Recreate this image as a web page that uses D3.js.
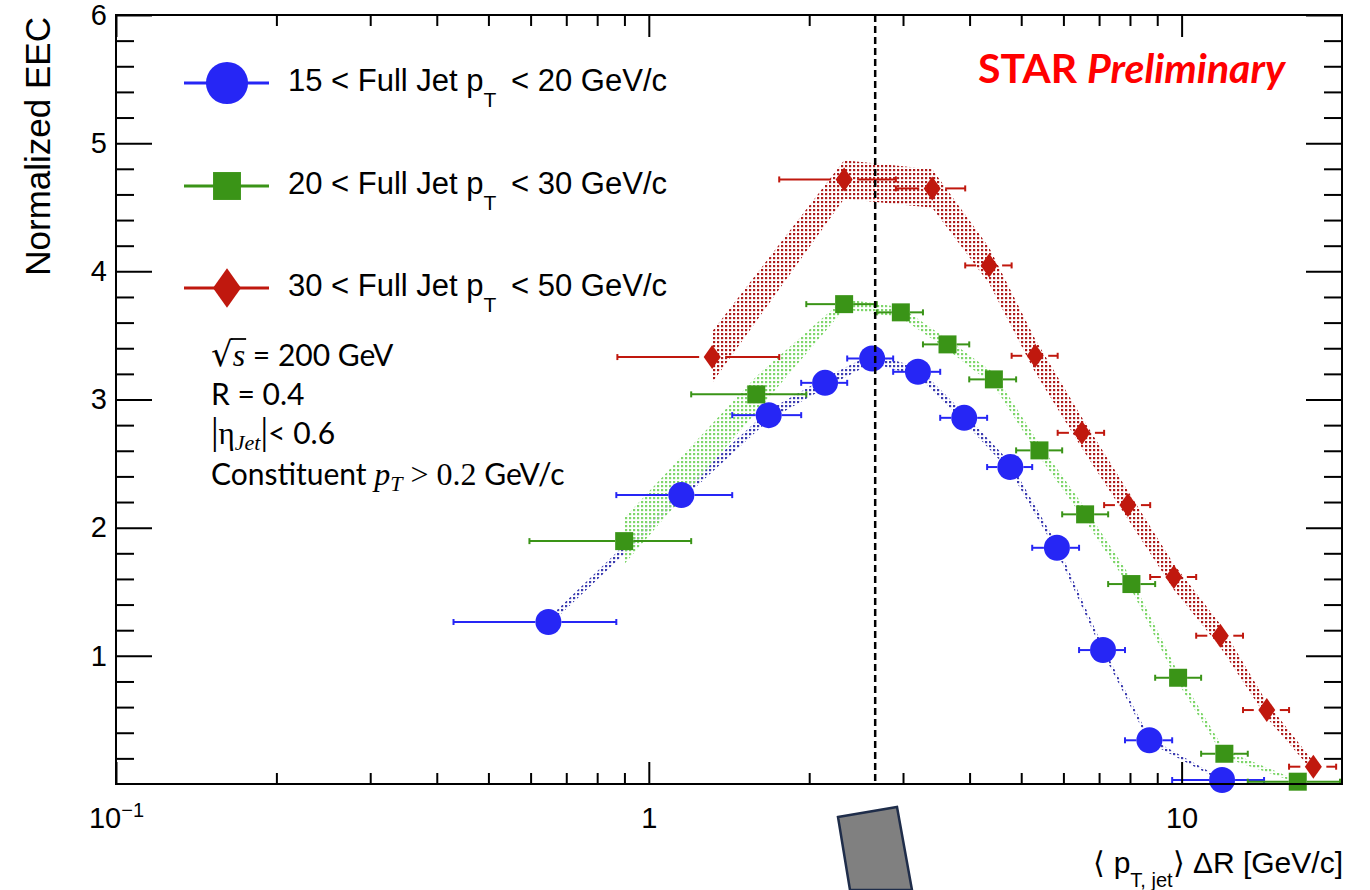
<!DOCTYPE html>
<html>
<head>
<meta charset="utf-8">
<title>Normalized EEC</title>
<script src="https://d3js.org/d3.v7.min.js"></script>
<style>
    body { margin: 0; background: #fff; }
    svg { font-family: "Liberation Sans", Arial, sans-serif; }
    .note { font-family: Lato, "Open Sans", sans-serif; font-size: 30px; fill: #000; }
    .math { font-family: "Liberation Serif", "DejaVu Serif", serif; font-style: italic; }
    .mathup { font-family: "Liberation Serif", "DejaVu Serif", serif; }
</style>
</head>
<body>
<div id="chart"></div>
<script>
// ---- data ----
var blueX     = [0.648, 1.151, 1.679, 2.142, 2.625, 3.20, 3.908, 4.77, 5.834, 7.12, 8.70, 11.91];
var blueY     = [1.264, 2.254, 2.878, 3.13, 3.32, 3.216, 2.857, 2.473, 1.843, 1.045, 0.341, 0.031];
var blueXLow  = [0.430, 0.869, 1.434, 1.932, 2.357, 2.875, 3.523, 4.315, 5.243, 6.42, 7.83, 9.60];
var blueXHigh = [0.869, 1.434, 1.932, 2.357, 2.875, 3.523, 4.315, 5.243, 6.42, 7.83, 9.60, 14.28];
var blueSys   = [0.03, 0.04, 0.04, 0.04, 0.035, 0.035, 0.035, 0.035, 0.03, 0.025, 0.02, 0.01];

var greenX     = [0.899, 1.591, 2.326, 2.972, 3.636, 4.443, 5.41, 6.59, 8.05, 9.85, 12.03, 16.52];
var greenY     = [1.895, 3.04, 3.744, 3.68, 3.43, 3.157, 2.603, 2.104, 1.56, 0.829, 0.236, 0.018];
var greenXLow  = [0.597, 1.201, 1.975, 2.678, 3.270, 3.994, 4.891, 5.968, 7.28, 8.92, 10.88, 13.31];
var greenXHigh = [1.201, 1.975, 2.678, 3.270, 3.994, 4.891, 5.968, 7.28, 8.92, 10.88, 13.31, 19.83];
var greenSys   = [0.18, 0.14, 0.04, 0.04, 0.04, 0.05, 0.05, 0.05, 0.045, 0.04, 0.03, 0.01];

var redX     = [1.315, 2.326, 3.403, 4.352, 5.311, 6.50, 7.93, 9.67, 11.82, 14.45, 17.67];
var redY     = [3.331, 4.717, 4.647, 4.046, 3.341, 2.74, 2.176, 1.615, 1.157, 0.577, 0.135];
var redXLow  = [0.873, 1.757, 2.909, 3.925, 4.797, 5.853, 7.154, 8.73, 10.65, 13.04, 15.91];
var redXHigh = [1.757, 2.909, 3.925, 4.797, 5.853, 7.154, 8.73, 10.65, 13.04, 15.91, 19.50];
var redSys   = [0.2, 0.15, 0.15, 0.14, 0.13, 0.12, 0.11, 0.10, 0.09, 0.06, 0.04];

var ptLow  = [15, 20, 30];
var ptHigh = [20, 30, 50];

var xMajor = [0.1, 1, 10];
var xMinor = [0.2, 0.3, 0.4, 0.5, 0.6, 0.7, 0.8, 0.9, 2, 3, 4, 5, 6, 7, 8, 9];
var yMajor = [1, 2, 3, 4, 5, 6];
var yMinor = d3.range(1, 30).map(function(i) { return i / 5; }).filter(function(v) { return v % 1 !== 0; });

var peakLine = 2.66;

// ---- layout ----
var width = 1370, height = 890;
var plotL = 116, plotR = 1342, plotT = 15, plotB = 784;

var x = d3.scaleLog().domain([0.1, 20]).range([plotL, plotR]);
var y = d3.scaleLinear().domain([0, 6]).range([plotB, plotT]);

var svg = d3.select("#chart").append("svg")
    .attr("width", width)
    .attr("height", height);

var defs = svg.append("defs");
function dotPattern(id, dot) {
    var p = defs.append("pattern").attr("id", id)
        .attr("width", 4).attr("height", 4)
        .attr("patternUnits", "userSpaceOnUse");
    p.append("rect").attr("x", 1).attr("y", 1).attr("width", 2.2).attr("height", 2.2).attr("fill", dot);
}
dotPattern("dotsRed", "#ad1c1c");
dotPattern("dotsGreen", "#7ed66a");
dotPattern("dotsBlue", "#3d3db0");

var series = [
    {xs: blueX, ys: blueY, lo: blueXLow, hi: blueXHigh, sys: blueSys, color: "#2626f5", band: "url(#dotsBlue)", shape: "circle", gap: 13},
    {xs: greenX, ys: greenY, lo: greenXLow, hi: greenXHigh, sys: greenSys, color: "#3a9417", band: "url(#dotsGreen)", shape: "square", gap: 9},
    {xs: redX, ys: redY, lo: redXLow, hi: redXHigh, sys: redSys, color: "#c0180e", band: "url(#dotsRed)", shape: "diamond", gap: 13}
];

function markerPath(shape, s) {
    // s = scale factor (1 for data points)
    if (shape === "circle") {
        var r = 13 * s;
        return "M" + (-r) + ",0A" + r + "," + r + " 0 1,0 " + r + ",0A" + r + "," + r + " 0 1,0 " + (-r) + ",0Z";
    }
    if (shape === "square") {
        var h = 9 * s;
        return "M" + (-h) + "," + (-h) + "H" + h + "V" + h + "H" + (-h) + "Z";
    }
    var w = 8.5 * s, hh = 12 * s;
    return "M0," + (-hh) + "L" + w + ",0L0," + hh + "L" + (-w) + ",0Z";
}

/* systematic bands */
var area = d3.area()
    .x(function(d) { return x(d.x); })
    .y0(function(d) { return y(d.y - d.s); })
    .y1(function(d) { return y(d.y + d.s); });

series.forEach(function(s) {
    var pts = s.xs.map(function(v, i) { return {x: v, y: s.ys[i], s: s.sys[i]}; });
    svg.append("path").attr("d", area(pts)).attr("fill", s.band);
});

/* error bars + markers */
series.forEach(function(s) {
    var g = svg.append("g");
    s.xs.forEach(function(v, i) {
        var cx = x(v), cy = y(s.ys[i]), x0 = x(s.lo[i]), x1 = x(s.hi[i]);
        var segs = [[x0, Math.min(cx - s.gap, x1)], [Math.max(cx + s.gap, x0), x1]];
        segs.forEach(function(sg) {
            if (sg[1] - sg[0] > 0) {
                g.append("line").attr("x1", sg[0]).attr("x2", sg[1]).attr("y1", cy).attr("y2", cy)
                    .attr("stroke", s.color).attr("stroke-width", 2);
            }
        });
        [x0, x1].forEach(function(xe) {
            g.append("line").attr("x1", xe).attr("x2", xe).attr("y1", cy - 3).attr("y2", cy + 3)
                .attr("stroke", s.color).attr("stroke-width", 2);
        });
    });
    g.selectAll("path.marker")
        .data(s.xs).enter()
        .append("path")
        .attr("class", "marker")
        .attr("d", markerPath(s.shape, 1))
        .attr("transform", function(d, i) { return "translate(" + x(d) + "," + y(s.ys[i]) + ")"; })
        .attr("fill", s.color);
});

/* dashed line */
svg.append("line")
    .attr("x1", x(peakLine)).attr("x2", x(peakLine))
    .attr("y1", plotT).attr("y2", plotB)
    .attr("stroke", "#000").attr("stroke-width", 2.5)
    .attr("stroke-dasharray", "7,4");

/* axes */
function clean(g) {
    g.select(".domain").remove();
    g.selectAll(".tick line").attr("stroke", "#000").attr("stroke-width", 2);
    g.attr("font-family", "Liberation Sans, Arial, sans-serif").attr("font-size", 29);
    g.selectAll("text").attr("fill", "#000");
}

var gxb = svg.append("g").attr("transform", "translate(0," + plotB + ")")
    .call(d3.axisBottom(x).tickValues(xMajor).tickSizeInner(-22).tickSizeOuter(0).tickPadding(23)
        .tickFormat(function(d) { return d === 0.1 ? "10" : d3.format("d")(d); }))
    .call(clean);
gxb.selectAll(".tick text").filter(function(d) { return d === 0.1; })
    .append("tspan").attr("font-size", 20).attr("dy", -11).text("\u22121");
svg.append("g").attr("transform", "translate(0," + plotB + ")")
    .call(d3.axisBottom(x).tickValues(xMinor).tickSizeInner(-11).tickSizeOuter(0).tickFormat(""))
    .call(clean);
svg.append("g").attr("transform", "translate(0," + plotT + ")")
    .call(d3.axisTop(x).tickValues(xMajor).tickSizeInner(-22).tickSizeOuter(0).tickFormat(""))
    .call(clean);
svg.append("g").attr("transform", "translate(0," + plotT + ")")
    .call(d3.axisTop(x).tickValues(xMinor).tickSizeInner(-11).tickSizeOuter(0).tickFormat(""))
    .call(clean);

svg.append("g").attr("transform", "translate(" + plotL + ",0)")
    .call(d3.axisLeft(y).tickValues(yMajor).tickSizeInner(-36).tickSizeOuter(0).tickPadding(9)
        .tickFormat(d3.format("d")))
    .call(clean);
svg.append("g").attr("transform", "translate(" + plotL + ",0)")
    .call(d3.axisLeft(y).tickValues(yMinor).tickSizeInner(-18).tickSizeOuter(0).tickFormat(""))
    .call(clean);
svg.append("g").attr("transform", "translate(" + plotR + ",0)")
    .call(d3.axisRight(y).tickValues(yMajor).tickSizeInner(-36).tickSizeOuter(0).tickFormat(""))
    .call(clean);
svg.append("g").attr("transform", "translate(" + plotR + ",0)")
    .call(d3.axisRight(y).tickValues(yMinor).tickSizeInner(-18).tickSizeOuter(0).tickFormat(""))
    .call(clean);

svg.append("rect")
    .attr("x", plotL).attr("y", plotT)
    .attr("width", plotR - plotL).attr("height", plotB - plotT)
    .attr("fill", "none").attr("stroke", "#000").attr("stroke-width", 2);

/* axis titles */
svg.append("text")
    .attr("transform", "translate(50," + (plotT + 2) + ") rotate(-90)")
    .attr("text-anchor", "end")
    .attr("font-size", 35)
    .text("Normalized EEC");

var xt = svg.append("text")
    .attr("x", plotR + 1).attr("y", 873)
    .attr("text-anchor", "end")
    .attr("font-size", 30);
xt.append("tspan").text("\u27E8 p");
xt.append("tspan").attr("font-size", 20).attr("dy", 14).text("T, jet");
xt.append("tspan").attr("dy", -14).text("\u27E9 \u0394R [GeV/c]");

/* legend */
var legendY = [83, 186, 288];
series.forEach(function(s, i) {
    var g = svg.append("g");
    g.append("line").attr("x1", 184).attr("x2", 269).attr("y1", legendY[i]).attr("y2", legendY[i])
        .attr("stroke", s.color).attr("stroke-width", 3);
    var sc = s.shape === "circle" ? 1.62 : (s.shape === "square" ? 1.55 : 1.65);
    g.append("path").attr("d", markerPath(s.shape, sc))
        .attr("transform", "translate(227," + legendY[i] + ")")
        .attr("fill", s.color);
    var t = g.append("text").attr("x", 288).attr("y", legendY[i] + 8).attr("font-size", 31);
    t.append("tspan").text(ptLow[i] + " < Full Jet p");
    t.append("tspan").attr("font-size", 21).attr("dy", 16).text("T");
    t.append("tspan").attr("dy", -16).attr("dx", 6).text(" < " + ptHigh[i] + " GeV/c");
});

/* STAR Preliminary */
var star = svg.append("text")
    .attr("x", 978).attr("y", 83)
    .attr("font-family", "Lato, 'Open Sans', sans-serif")
    .attr("font-size", 41).attr("font-weight", "bold")
    .attr("fill", "#ff0000");
star.append("tspan").text("STAR ");
star.append("tspan").attr("font-style", "italic").text("Preliminary");

/* cuts text */
var note = svg.append("g").attr("class", "note");
var l1 = note.append("text").attr("x", 211).attr("y", 366);
l1.append("tspan").attr("font-family", "DejaVu Sans").attr("font-size", 34).text("\u221A");
l1.append("tspan").attr("class", "math").attr("font-size", 32).text("s");
l1.append("tspan").text(" = 200 GeV");
// vinculum over the s
var n1 = l1.node();
var rootEnd = n1.getEndPositionOfChar(0);
var sEnd = n1.getEndPositionOfChar(1);
note.append("line")
    .attr("x1", rootEnd.x - 2).attr("x2", sEnd.x + 1)
    .attr("y1", 366 - 27).attr("y2", 366 - 27)
    .attr("stroke", "#000").attr("stroke-width", 1.8);

note.append("text").attr("x", 211).attr("y", 405).text("R = 0.4");

var l3 = note.append("text").attr("x", 211).attr("y", 444);
l3.append("tspan").attr("class", "mathup").attr("font-size", 38).text("|");
l3.append("tspan").attr("class", "mathup").attr("font-size", 31).text("\u03B7");
l3.append("tspan").attr("class", "math").attr("font-size", 22).attr("dy", 6).text("Jet");
l3.append("tspan").attr("class", "mathup").attr("font-size", 38).attr("dy", -6).text("|");
l3.append("tspan").text("< 0.6");

var l4 = note.append("text").attr("x", 211).attr("y", 485);
l4.append("tspan").text("Constituent ");
l4.append("tspan").attr("class", "math").attr("font-size", 32).text("p");
l4.append("tspan").attr("class", "math").attr("font-size", 22).attr("dy", 6).text("T");
l4.append("tspan").attr("class", "mathup").attr("font-size", 32).attr("dy", -6).text(" > 0.2");
l4.append("tspan").text(" GeV/c");

/* grey box overlay at the bottom */
svg.append("path")
    .attr("d", "M838,817L897,807L912,890L850,890Z")
    .attr("fill", "#808080")
    .attr("stroke", "#1f2d4a")
    .attr("stroke-width", 2.5);
</script>
</body>
</html>
